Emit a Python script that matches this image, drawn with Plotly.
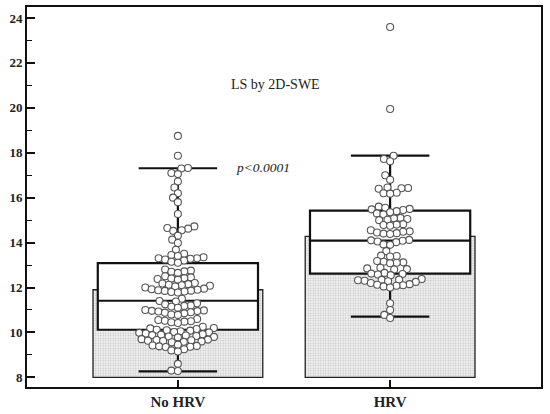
import numpy as np
import plotly.graph_objects as go

categories = ["No HRV", "HRV"]
cat_pos = [0, 1]

# mean bars (base at 8)
bar_base = 8
means = [11.90, 14.28]

# box statistics
q1 = [10.12, 12.62]
median = [11.41, 14.09]
q3 = [13.09, 15.42]
lower_whisker = [8.27, 10.70]
upper_whisker = [17.31, 17.87]

no_hrv_values = [18.75, 17.87, 17.32, 17.30, 17.10, 17.05, 16.72, 16.45, 16.2, 16.0, 15.8, 15.27,
    14.72, 14.65, 14.62, 14.55, 14.52, 14.31, 14.13, 13.98, 13.68,
    13.5, 13.45, 13.4, 13.35,
    13.3, 13.3, 13.28, 13.25, 13.2, 13.15, 13.1,
    12.8, 12.75, 12.72, 12.7, 12.65,
    12.5, 12.45, 12.42, 12.4, 12.38, 12.35,
    12.2, 12.18, 12.15, 12.12, 12.1, 12.08, 12.05, 12.0,
    11.95, 11.92, 11.9, 11.88, 11.86, 11.85, 11.82, 11.8, 11.78,
    11.5, 11.4, 11.38,
    11.3, 11.25, 11.2, 11.18, 11.15, 11.1,
    11.0, 10.98, 10.96, 10.95, 10.93, 10.9, 10.88, 10.85, 10.8, 10.78,
    10.6, 10.55, 10.52, 10.5, 10.48, 10.45, 10.42,
    10.25, 10.2, 10.18, 10.15, 10.12, 10.1, 10.08, 10.05, 10.02, 10.0,
    9.98, 9.95, 9.92, 9.9, 9.88, 9.86, 9.84, 9.82, 9.8, 9.78,
    9.7, 9.68, 9.66, 9.65, 9.63, 9.62, 9.6, 9.58, 9.56,
    9.45, 9.42, 9.4, 9.38, 9.36, 9.35,
    9.25, 9.2, 9.15,
    8.6, 8.3, 8.28]

hrv_values = [23.6, 19.95, 17.87, 17.72, 17.62, 17.0, 16.8,
    16.45, 16.43, 16.42, 16.4, 16.22, 16.2, 16.18,
    15.6, 15.55, 15.5, 15.48, 15.45, 15.4, 15.35, 15.3, 15.25,
    15.1, 15.08, 15.05, 15.02, 15.0,
    14.82, 14.8, 14.78, 14.75,
    14.55, 14.5, 14.48, 14.45, 14.42, 14.4, 14.38,
    14.12, 14.1, 14.08, 14.05, 14.02,
    13.92, 13.9,
    13.62,
    13.42, 13.4, 13.38,
    13.18, 13.15, 13.12, 13.1, 13.08,
    12.88, 12.85, 12.82, 12.8,
    12.65, 12.62, 12.6, 12.58, 12.55,
    12.38, 12.35, 12.34, 12.32, 12.3, 12.28, 12.25,
    12.2, 12.15, 12.12, 12.1, 12.08, 12.05, 12.0,
    11.3, 11.0, 10.78, 10.64]

# layout geometry
W, H = 550, 414
margin = dict(l=27, r=9, t=7, b=27)
x_range = [-0.711, 1.711]
y_range = [7.57, 24.49]
plot_w = W - margin["l"] - margin["r"]
plot_h = H - margin["t"] - margin["b"]
px_per_x = plot_w / (x_range[1] - x_range[0])
px_per_y = plot_h / (y_range[1] - y_range[0])
marker_size = 7
diam = 6.6  # collision spacing in px (circles overlap slightly)


def beeswarm(values):
    """Return x offsets (data units) for a beeswarm layout of values."""
    order = np.argsort(values)
    placed = []
    offsets = np.zeros(len(values))
    for idx in order:
        yp = values[idx] * px_per_y
        cands = [0.0]
        near = [(px, py) for px, py in placed if abs(py - yp) < diam]
        for px, py in near:
            dx = np.sqrt(diam ** 2 - (py - yp) ** 2)
            cands += [px + dx + 1e-6, px - dx - 1e-6]
        cands = sorted(cands, key=lambda c: (abs(c), c))
        for c in cands:
            if all((c - px) ** 2 + (yp - py) ** 2 >= diam ** 2 - 1e-6 for px, py in near):
                break
        placed.append((c, yp))
        offsets[idx] = c
    return offsets / px_per_x


fig = go.Figure()

fig.add_trace(go.Bar(
    x=cat_pos, y=[m - bar_base for m in means], base=bar_base, width=0.8,
    marker=dict(color="white", line=dict(color="#222", width=1.3),
                pattern=dict(shape=".", fgcolor="#8c8c8c", bgcolor="#f2f2f2", size=2.5, solidity=0.3)),
    showlegend=False, hoverinfo="skip"))

for i in range(2):
    fig.add_trace(go.Box(
        x=[cat_pos[i]], q1=[q1[i]], median=[median[i]], q3=[q3[i]],
        lowerfence=[lower_whisker[i]], upperfence=[upper_whisker[i]],
        width=0.755, whiskerwidth=0.49, fillcolor="white",
        line=dict(color="#111", width=2.2), boxpoints=False, showlegend=False))

for i, vals in enumerate([no_hrv_values, hrv_values]):
    vals = np.array(vals)
    off = beeswarm(vals)
    fig.add_trace(go.Scatter(
        x=cat_pos[i] + off, y=vals, mode="markers",
        marker=dict(symbol="circle", size=marker_size, color="white",
                    line=dict(color="#555", width=1.1)),
        showlegend=False))

fig.add_annotation(x=0.459, y=21.03, text="LS by 2D-SWE", showarrow=False,
                   font=dict(family="Liberation Serif", size=14, color="#222"))
fig.add_annotation(x=0.402, y=17.34, text="p&lt;0.0001", showarrow=False,
                   font=dict(family="Liberation Serif", size=13.5, color="#222", style="italic"))

fig.update_layout(
    width=W, height=H, margin=margin,
    paper_bgcolor="white", plot_bgcolor="white",
    boxmode="overlay", barmode="overlay",
    xaxis=dict(range=x_range, tickvals=cat_pos, ticktext=categories, automargin=False,
               showline=True, linecolor="#111", linewidth=2, mirror=True,
               ticks="inside", ticklen=7, tickwidth=1.6, tickcolor="#111",
               showgrid=False, zeroline=False,
               tickfont=dict(family="Liberation Serif", size=15, color="#222", weight="bold")),
    yaxis=dict(range=y_range, tickvals=list(range(8, 25, 2)), automargin=False,
               showline=True, linecolor="#111", linewidth=2, mirror=True,
               ticks="inside", ticklen=8, tickwidth=1.6, tickcolor="#111",
               minor=dict(dtick=1, ticks="inside", ticklen=5, tickwidth=1.2, tickcolor="#111", showgrid=False),
               showgrid=False, zeroline=False,
               tickfont=dict(family="Liberation Serif", size=13, color="#222", weight="bold")),
)

fig.write_html("out.html", post_script="document.body.style.margin='0';",
               config={"displayModeBar": False})
